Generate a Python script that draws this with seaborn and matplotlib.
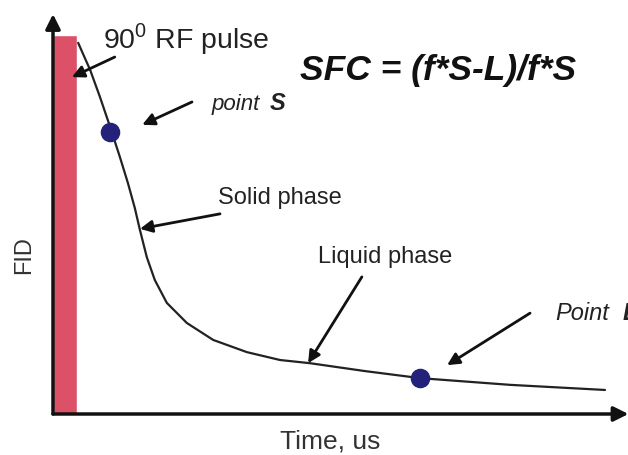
import numpy as np
import seaborn as sns
import matplotlib.pyplot as plt

# FID decay curve (time in arbitrary units, signal in %)
time_pts = [4.4, 6.5, 8.2, 10.0, 11.7, 13.1, 14.3, 15.2, 16.4, 17.8, 19.9, 23.4,
            28.0, 33.9, 39.7, 44.9, 54.5, 64.2, 79.9, 96.5]
fid_pts = [94.2, 87.3, 80.5, 72.8, 65.2, 58.6, 52.3, 46.7, 39.8, 34.0, 28.2, 23.1,
           18.8, 15.7, 13.7, 12.9, 10.9, 9.1, 7.4, 6.1]

# sampling points S and L
sample_t = [10.0, 64.2]
sample_fid = [71.5, 9.1]

# RF pulse
pulse_width = 4.2
pulse_height = 96.2

sns.set_theme(style="white")
plt.rcParams['font.family'] = ['Liberation Sans', 'DejaVu Sans']
plt.rcParams['mathtext.fontset'] = 'custom'
plt.rcParams['mathtext.rm'] = 'Liberation Sans'

fig = plt.figure(figsize=(6.28, 4.55), dpi=100)
ax = fig.add_axes([53 / 628, 41 / 455, 572 / 628, 394 / 455])

ax.bar([pulse_width / 2], [pulse_height], width=pulse_width, color='#dc5068', zorder=1)
sns.lineplot(x=time_pts, y=fid_pts, ax=ax, color='#222222', lw=1.6, zorder=2)
sns.scatterplot(x=sample_t, y=sample_fid, ax=ax, s=170, color='#23217a',
                edgecolor='#23217a', zorder=3)

ax.set_xlim(0, 100)
ax.set_ylim(0, 100)
ax.set_xticks([])
ax.set_yticks([])
for sp in ax.spines.values():
    sp.set_visible(False)

# axes with arrow heads
axis_kw = dict(arrowstyle='-|>', lw=2.5, color='#111111', mutation_scale=22,
               shrinkA=0, shrinkB=0)
ax.annotate('', xy=(0, 101.5), xytext=(0, 0), arrowprops=axis_kw, annotation_clip=False)
ax.annotate('', xy=(100.6, 0), xytext=(0, 0), arrowprops=axis_kw, annotation_clip=False)

# labels
ax.text(8.7, 92.9, r'90$^{\rm 0}$ RF pulse', fontsize=20.5, color='#222222', va='baseline')
ax.text(43.2, 84.8, 'SFC = (f*S-L)/f*S', fontsize=25.5, fontweight='bold', style='italic',
        color='#111111', va='baseline')
ax.text(27.8, 77.2, 'point', fontsize=16, style='italic', color='#222222', va='baseline')
ax.text(37.8, 77.2, 'S', fontsize=17, style='italic', fontweight='bold', color='#222222',
        va='baseline')
ax.text(28.8, 53.3, 'Solid phase', fontsize=17, color='#222222', va='baseline')
ax.text(46.3, 38.3, 'Liquid phase', fontsize=17, color='#222222', va='baseline')
ax.text(87.8, 23.9, 'Point', fontsize=17, style='italic', color='#222222', va='baseline')
ax.text(99.5, 23.9, 'L', fontsize=17, style='italic', fontweight='bold', color='#222222',
        va='baseline', clip_on=False)

arrow_kw = dict(arrowstyle='-|>', lw=2, color='#111111', mutation_scale=18,
                shrinkA=0, shrinkB=0)
arrows = [((3.3, 85.5), (10.8, 90.6)),
          ((15.6, 73.4), (24.3, 79.2)),
          ((15.2, 47.0), (29.2, 50.8)),
          ((44.6, 12.9), (54.0, 34.8)),
          ((68.9, 12.4), (83.4, 25.6))]
for head, tail in arrows:
    ax.annotate('', xy=head, xytext=tail, arrowprops=arrow_kw)

fig.text(24 / 628, 1 - 255 / 455, 'FID', rotation=90, fontsize=17, color='#333333',
         ha='center', va='center')
fig.text(330 / 628, 1 - 442 / 455, 'Time, us', fontsize=19, color='#333333',
         ha='center', va='center')

fig.savefig('out.png', dpi=100)
